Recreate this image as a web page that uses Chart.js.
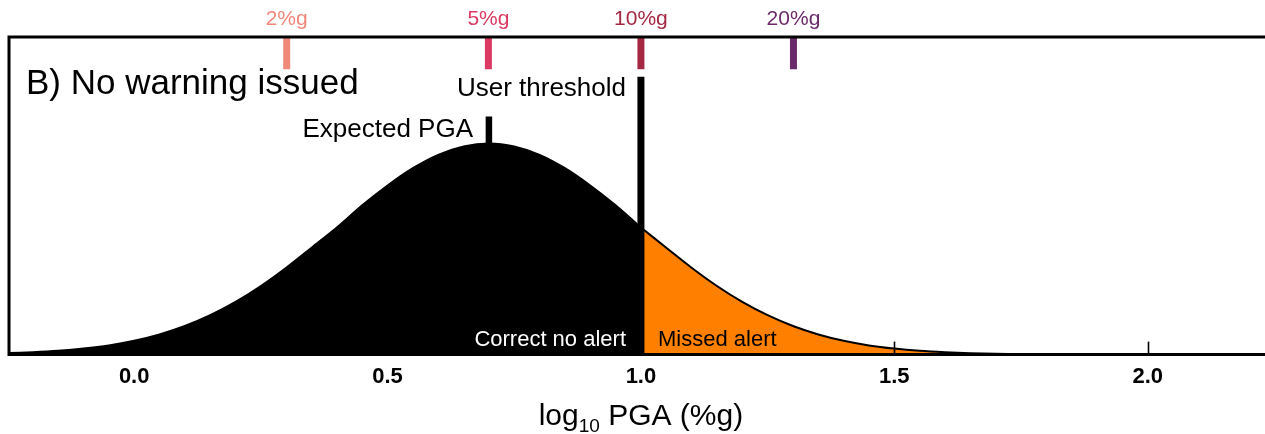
<!DOCTYPE html>
<html>
<head>
<meta charset="utf-8">
<script src="https://cdn.jsdelivr.net/npm/chart.js@4"></script>
<style>
    body { margin: 0; background: #fff; }
    .chart-box { width: 1265px; height: 434px; }
</style>
</head>
<body>
<div class="chart-box"><canvas id="pga-chart"></canvas></div>
<script>
// curve: log10 PGA (%g) vs density
const pgaX = [-0.25, -0.2, -0.15, -0.1, -0.05, 0.0, 0.05, 0.1, 0.15, 0.2, 0.25, 0.3, 0.35, 0.4, 0.45,
    0.5, 0.55, 0.6, 0.65, 0.7, 0.75, 0.8, 0.85, 0.9, 0.95, 1.0, 1.05, 1.1, 1.15, 1.2, 1.25, 1.3,
    1.35, 1.4, 1.45, 1.5, 1.55, 1.6, 1.65, 1.7, 1.75, 1.8, 1.85, 1.9, 1.95, 2.0, 2.05, 2.1, 2.15, 2.2, 2.25];
const density = [0.009, 0.015, 0.024, 0.038, 0.058, 0.087, 0.127, 0.18, 0.248, 0.332, 0.432, 0.547, 0.673, 0.8, 0.94,
    1.065, 1.174, 1.258, 1.311, 1.33, 1.311, 1.258, 1.174, 1.065, 0.94, 0.8, 0.673, 0.547, 0.432, 0.332, 0.248, 0.18,
    0.127, 0.087, 0.058, 0.038, 0.024, 0.015, 0.009, 0.005, 0.003, 0.002, 0.001, 0, 0, 0, 0, 0, 0, 0, 0];

const userThreshold = 1.0;
const thresholdTop = 1.75;
const expectedPGA = 0.7;
const expectedTop = 1.5;

const levelValues = [0.301, 0.699, 1.0, 1.301];
const levelLabels = ['2%g', '5%g', '10%g', '20%g'];
const levelColors = ['#f0887a', '#dc3a62', '#a52842', '#6b2a6a'];

const tickValues = [0.0, 0.5, 1.0, 1.5, 2.0];
const xMin = -0.247;
const xMax = 2.2315;

const FONT = "'Liberation Sans', Arial, Helvetica, sans-serif";

function curvePoints(test) {
    const pts = [];
    pgaX.forEach((x, i) => {
        if (test(x)) pts.push({ x: x, y: density[i] });
    });
    return pts;
};

const levelSets = levelValues.map((v, i) => ({
    data: [{ x: v, y: 2 }, { x: v, y: 1.797 }],
    borderColor: levelColors[i],
    borderWidth: 7,
    borderCapStyle: 'butt',
    pointRadius: 0,
    showLine: true
}));

const framePlugin = {
    id: 'frame',
    afterDatasetsDraw(chart) {
        const { ctx, chartArea: a, scales } = chart;
        const xs = scales.x;
        ctx.save();
        ctx.strokeStyle = '#000';
        ctx.lineWidth = 3;
        ctx.beginPath();
        ctx.moveTo(a.right + 5, a.top);
        ctx.lineTo(a.left, a.top);
        ctx.lineTo(a.left, a.bottom);
        ctx.lineTo(a.right + 5, a.bottom);
        ctx.stroke();

        // short inward ticks on the bottom axis
        ctx.lineWidth = 1.6;
        tickValues.forEach(v => {
            const px = Math.round(xs.getPixelForValue(v)) + 0.5;
            ctx.beginPath();
            ctx.moveTo(px, a.bottom);
            ctx.lineTo(px, a.bottom - 13);
            ctx.stroke();
        });

        // level labels above the frame
        ctx.textAlign = 'center';
        ctx.textBaseline = 'alphabetic';
        ctx.font = `21px ${FONT}`;
        levelValues.forEach((v, i) => {
            ctx.fillStyle = levelColors[i];
            ctx.fillText(levelLabels[i], xs.getPixelForValue(v), 25);
        });

        ctx.fillStyle = '#000';
        ctx.textAlign = 'left';
        ctx.font = `35px ${FONT}`;
        ctx.fillText('B) No warning issued', 26, 94);

        ctx.textAlign = 'right';
        ctx.font = `26px ${FONT}`;
        ctx.fillText('User threshold', 626, 96);
        ctx.fillText('Expected PGA', 473, 137);

        ctx.font = `22px ${FONT}`;
        ctx.fillStyle = '#fff';
        ctx.fillText('Correct no alert', 626, 346);
        ctx.textAlign = 'left';
        ctx.fillStyle = '#000';
        ctx.fillText('Missed alert', 658, 346);

        // axis title with subscript
        const main = `30px ${FONT}`;
        const sub = `19px ${FONT}`;
        ctx.font = main;
        const w1 = ctx.measureText('log').width;
        const w3 = ctx.measureText(' PGA (%g)').width;
        ctx.font = sub;
        const w2 = ctx.measureText('10').width;
        let x0 = xs.getPixelForValue(1.0) - (w1 + w2 + w3) / 2;
        ctx.font = main;
        ctx.fillText('log', x0, 425);
        ctx.font = sub;
        ctx.fillText('10', x0 + w1, 432);
        ctx.font = main;
        ctx.fillText(' PGA (%g)', x0 + w1 + w2, 425);
        ctx.restore();
    }
};

const ctx = document.getElementById('pga-chart');
new Chart(ctx, {
    type: 'scatter',
    data: {
        datasets: [
            {
                data: [{ x: userThreshold, y: 0 }, { x: userThreshold, y: thresholdTop }],
                borderColor: '#000', borderWidth: 7, borderCapStyle: 'butt',
                pointRadius: 0, showLine: true
            },
            {
                data: [{ x: expectedPGA, y: 1.2 }, { x: expectedPGA, y: expectedTop }],
                borderColor: '#000', borderWidth: 6.5, borderCapStyle: 'butt',
                pointRadius: 0, showLine: true
            },
            ...levelSets,
            {
                label: 'Missed alert',
                data: curvePoints(x => x >= userThreshold),
                borderColor: '#000', borderWidth: 2, backgroundColor: '#ff8000',
                fill: 'origin', pointRadius: 0, showLine: true,
                tension: 0.3
            },
            {
                label: 'Correct no alert',
                data: curvePoints(x => x <= userThreshold),
                borderColor: '#000', borderWidth: 2, backgroundColor: '#000',
                fill: 'origin', pointRadius: 0, showLine: true,
                tension: 0.3
            }
        ]
    },
    options: {
        responsive: true,
        maintainAspectRatio: false,
        animation: false,
        layout: { padding: { left: 9, top: 37, right: 0, bottom: 35 } },
        plugins: {
            legend: { display: false },
            tooltip: { enabled: false }
        },
        scales: {
            x: {
                type: 'linear',
                min: xMin,
                max: xMax,
                grid: { display: false, drawTicks: false },
                border: { display: false },
                ticks: {
                    stepSize: 0.5,
                    includeBounds: false,
                    padding: 9,
                    color: '#000',
                    font: { family: FONT, size: 22, weight: 'bold' },
                    callback: v => Number(v).toFixed(1)
                }
            },
            y: {
                display: false,
                min: 0,
                max: 2
            }
        }
    },
    plugins: [framePlugin]
});
</script>
</body>
</html>
